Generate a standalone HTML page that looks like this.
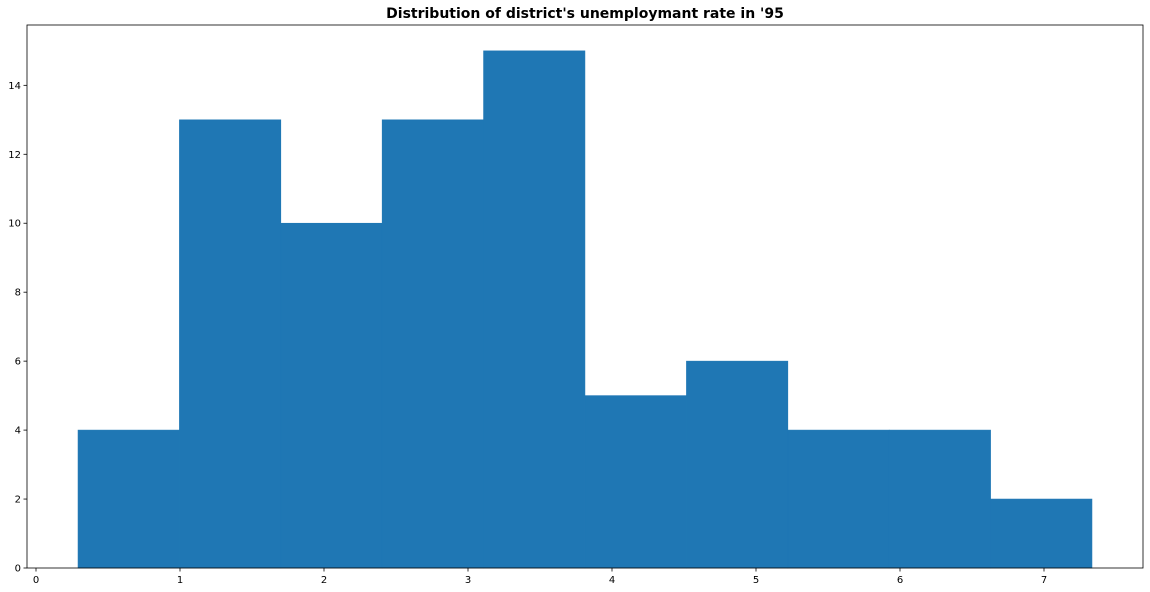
<!DOCTYPE html>
<html><head><meta charset="utf-8"><style>
html,body{margin:0;padding:0;background:#fff;}
svg{display:block;font-family:"DejaVu Sans","Liberation Sans",sans-serif;}
</style></head><body>
<svg id="chart" width="1150" height="592">
<text x="585" y="18" text-anchor="middle" font-size="14" font-weight="bold" fill="#000">Distribution of district's unemploymant rate in '95</text>
<g id="bars"></g>
<g id="axes"></g>
</svg>
<script>
const binEdges = [0.292, 0.996, 1.700, 2.404, 3.108, 3.812, 4.517, 5.221, 5.925, 6.629, 7.333];
const counts = [4, 13, 10, 13, 15, 5, 6, 4, 4, 2];
const xTicks = [0, 1, 2, 3, 4, 5, 6, 7];
const yTicks = [0, 2, 4, 6, 8, 10, 12, 14];

const L = 27, R = 1143, T = 25, B = 568;
const xMin = -0.0625, xMax = 7.6875, yMin = 0, yMax = 15.75;
const NS = "http://www.w3.org/2000/svg";
function xs(v){ return L + (v - xMin) / (xMax - xMin) * (R - L); }
function ys(v){ return B - (v - yMin) / (yMax - yMin) * (B - T); }
function mk(tag, attrs, parent){ const e = document.createElementNS(NS, tag); for (const k in attrs) e.setAttribute(k, attrs[k]); parent.appendChild(e); return e; }

const bars = document.getElementById('bars');
counts.forEach((c, i) => {
  const x0 = xs(binEdges[i]), x1 = xs(binEdges[i+1]);
  const r = mk('rect', {x: x0, y: ys(c), width: x1 - x0, height: ys(0) - ys(c), fill: '#1f77b4', stroke: '#1f77b4', 'stroke-width': 0.6}, bars);
  
  
});

const axes = document.getElementById('axes');
const frame = mk('rect', {x: L, y: T, width: R - L, height: B - T, fill: 'none', stroke: '#000', 'stroke-width': 0.8}, axes);


xTicks.forEach(t => {
  const x = xs(t);
  mk('line', {x1: x, x2: x, y1: B, y2: B + 3.5, stroke: '#000', 'stroke-width': 0.8}, axes);
  const tx = mk('text', {x: x, y: B + 15, 'text-anchor': 'middle', 'font-size': 10, fill: '#000'}, axes);
  tx.textContent = t;
  
  
});
yTicks.forEach(t => {
  const y = ys(t);
  mk('line', {x1: L - 3.5, x2: L, y1: y, y2: y, stroke: '#000', 'stroke-width': 0.8}, axes);
  const tx = mk('text', {x: L - 6, y: y + 3.5, 'text-anchor': 'end', 'font-size': 10, fill: '#000'}, axes);
  tx.textContent = t;
  
  
});
</script>
</body></html>
